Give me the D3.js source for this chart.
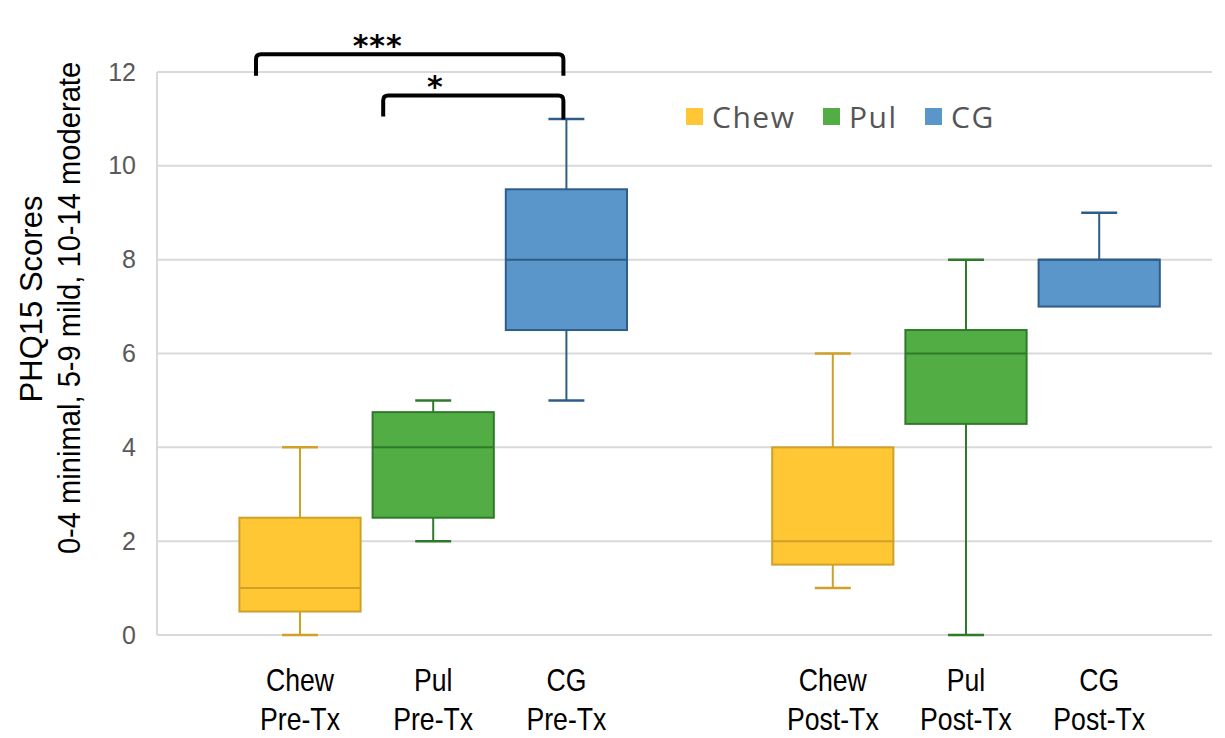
<!DOCTYPE html>
<html>
<head>
<meta charset="utf-8">
<script src="https://cdn.jsdelivr.net/npm/d3@7"></script>
<style>
  body { margin: 0; background: #fff; }
  svg { display: block; }
</style>
</head>
<body>
<svg id="chart"></svg>
<script>
// categories (one blank slot between pre and post)
const groups = ["Chew|Pre-Tx", "Pul|Pre-Tx", "CG|Pre-Tx", "", "Chew|Post-Tx", "Pul|Post-Tx", "CG|Post-Tx"];
const series = ["Chew", "Pul", "CG", "", "Chew", "Pul", "CG"];

// five-number summaries
const mins    = [0,   2,    5,   null, 1,   0,   7];
const q1s     = [0.5, 2.5,  6.5, null, 1.5, 4.5, 7];
const medians = [1,   4,    8,   null, 2,   6,   8];
const q3s     = [2.5, 4.75, 9.5, null, 4,   6.5, 8];
const maxs    = [4,   5,    11,  null, 6,   8,   9];

const yTicks = [0, 2, 4, 6, 8, 10, 12];
const legendNames = ["Chew", "Pul", "CG"];

// significance brackets between groups
const brackets = [
  { from: 0, to: 2, top: 12.38, leg: 11.92, label: "***", inset: -44 },
  { from: 1, to: 2, top: 11.5,  leg: 11.05, label: "*",   inset: -50 }
];

const fills   = { Chew: "#FFC734", Pul: "#52AE44", CG: "#5A96C9" };
const strokes = { Chew: "#CFA02A", Pul: "#2F7A2A", CG: "#2E5D89" };

const W = 1225, H = 738;
const svg = d3.select("#chart").attr("width", W).attr("height", H);

const plotLeft = 157, plotRight = 1212;

const x = d3.scaleBand().domain(d3.range(groups.length)).range([233.4, 1165.8]);
const y = d3.scaleLinear().domain([0, 12]).range([635, 72]);

const bw = x.bandwidth() * 0.91;
const capW = x.bandwidth() * 0.27;
const cx = i => x(i) + x.bandwidth() / 2;

// gridlines
svg.append("g")
  .selectAll("line")
  .data(yTicks)
  .enter()
  .append("line")
  .attr("x1", plotLeft)
  .attr("x2", plotRight)
  .attr("y1", d => y(d))
  .attr("y2", d => y(d))
  .attr("stroke", "#d9d9d9")
  .attr("stroke-width", 2);

// left axis line
svg.append("line")
  .attr("x1", plotLeft).attr("x2", plotLeft)
  .attr("y1", y(12)).attr("y2", y(0))
  .attr("stroke", "#d9d9d9").attr("stroke-width", 2);

// y axis labels
const yAxis = d3.axisLeft(y).tickValues(yTicks).tickSize(0).tickPadding(0);
const yg = svg.append("g").attr("transform", `translate(136,0)`).call(yAxis);
yg.select(".domain").remove();
yg.selectAll("text")
  .attr("fill", "#595959")
  .style("font-family", "'Liberation Sans', Arial, sans-serif")
  .style("font-size", "25px");

// y titles
svg.append("text")
  .attr("transform", `translate(42,299) rotate(-90)`)
  .attr("text-anchor", "middle")
  .style("font-family", "'Liberation Sans', Arial, sans-serif")
  .style("font-size", "31px")
  .attr("fill", "#000")
  .text("PHQ15 Scores");

svg.append("text")
  .attr("transform", `translate(80,308) rotate(-90) scale(0.94,1)`)
  .attr("text-anchor", "middle")
  .style("font-family", "'Liberation Sans', Arial, sans-serif")
  .style("font-size", "31px")
  .attr("fill", "#000")
  .text("0-4 minimal, 5-9 mild, 10-14 moderate");

// boxes
const idx = d3.range(groups.length).filter(i => series[i] !== "");
const boxG = svg.append("g");

idx.forEach(i => {
  const s = series[i];
  const g = boxG.append("g");
  // whiskers
  if (maxs[i] > q3s[i]) {
    g.append("line")
      .attr("x1", cx(i)).attr("x2", cx(i))
      .attr("y1", y(q3s[i])).attr("y2", y(maxs[i]))
      .attr("stroke", strokes[s]).attr("stroke-width", 2);
    g.append("line")
      .attr("x1", cx(i) - capW / 2).attr("x2", cx(i) + capW / 2)
      .attr("y1", y(maxs[i])).attr("y2", y(maxs[i]))
      .attr("stroke", strokes[s]).attr("stroke-width", 2.5);
  }
  if (mins[i] < q1s[i]) {
    g.append("line")
      .attr("x1", cx(i)).attr("x2", cx(i))
      .attr("y1", y(q1s[i])).attr("y2", y(mins[i]))
      .attr("stroke", strokes[s]).attr("stroke-width", 2);
    g.append("line")
      .attr("x1", cx(i) - capW / 2).attr("x2", cx(i) + capW / 2)
      .attr("y1", y(mins[i])).attr("y2", y(mins[i]))
      .attr("stroke", strokes[s]).attr("stroke-width", 2.5);
  }
  g.append("rect")
    .attr("x", cx(i) - bw / 2)
    .attr("width", bw)
    .attr("y", y(q3s[i]))
    .attr("height", y(q1s[i]) - y(q3s[i]))
    .attr("fill", fills[s])
    .attr("stroke", strokes[s])
    .attr("stroke-width", 2);
  g.append("line")
    .attr("x1", cx(i) - bw / 2).attr("x2", cx(i) + bw / 2)
    .attr("y1", y(medians[i])).attr("y2", y(medians[i]))
    .attr("stroke", strokes[s]).attr("stroke-width", 2);
});

// x labels (condensed like the original)
const xl = svg.append("g");
idx.forEach(i => {
  const parts = groups[i].split("|");
  const t = xl.append("text")
    .attr("transform", `translate(${cx(i)},0) scale(0.86,1)`)
    .attr("text-anchor", "middle")
    .style("font-family", "'Liberation Sans', Arial, sans-serif")
    .style("font-size", "31px")
    .attr("fill", "#000");
  t.append("tspan").attr("x", 0).attr("y", 691).text(parts[0]);
  t.append("tspan").attr("x", 0).attr("y", 730).text(parts[1]);
});

// legend
const legX = [686, 823, 925];
const leg = svg.append("g");
legendNames.forEach((n, k) => {
  leg.append("rect")
    .attr("x", legX[k]).attr("y", 108)
    .attr("width", 17).attr("height", 17)
    .attr("fill", fills[n]);
  leg.append("text")
    .attr("x", legX[k] + 26).attr("y", 128)
    .style("font-family", "'Open Sans', sans-serif")
    .style("font-size", "30px")
    .style("letter-spacing", "1.5px")
    .attr("fill", "#555")
    .text(n);
});

// significance brackets
const br = svg.append("g");
brackets.forEach(b => {
  const x1 = cx(b.from) + b.inset;
  const x2 = cx(b.to) - 3;
  const yt = y(b.top), yl = y(b.leg);
  br.append("path")
    .attr("d", `M${x1},${yl} L${x1},${yt + 5} Q${x1},${yt} ${x1 + 5},${yt} L${x2 - 5},${yt} Q${x2},${yt} ${x2},${yt + 5} L${x2},${yl + (b.label === "*" ? 3 : 0)}`)
    .attr("fill", "none")
    .attr("stroke", "#000")
    .attr("stroke-width", 4);
  br.append("text")
    .attr("x", (x1 + x2) / 2 - (b.label === "*" ? 38 : 32))
    .attr("y", yt + 2)
    .attr("text-anchor", "middle")
    .style("font-family", "'DejaVu Sans', sans-serif")
    .style("font-size", "30px")
    .style("font-weight", "bold")
    .style("letter-spacing", "1px")
    .attr("fill", "#000")
    .text(b.label);
});
</script>
</body>
</html>
